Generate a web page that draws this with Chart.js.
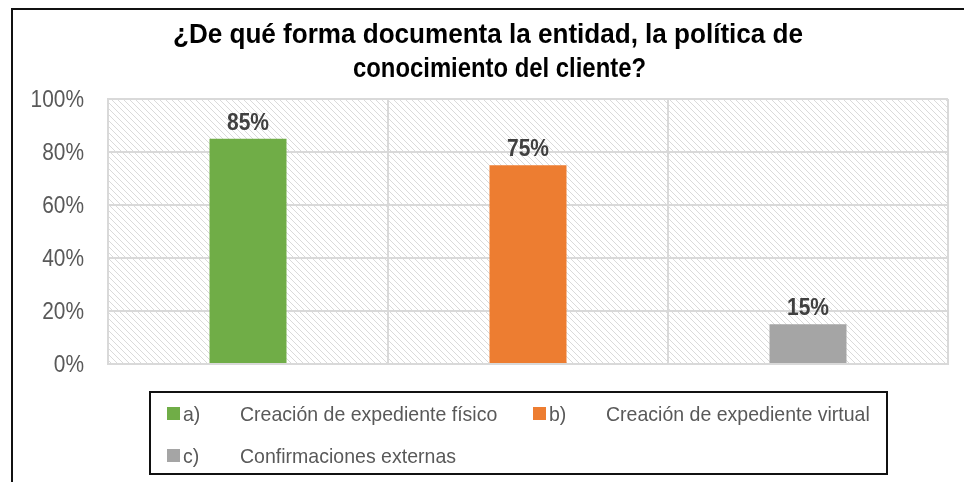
<!DOCTYPE html>
<html>
<head>
<meta charset="utf-8">
<script src="https://cdn.jsdelivr.net/npm/chart.js@4"></script>
<style>
  body { margin: 0; background: #fff; }
  #wrap { position: relative; width: 964px; height: 482px; }
  #frame-top { position: absolute; left: 11px; top: 8px; width: 953px; height: 2px; background: #111; }
  #frame-left { position: absolute; left: 11px; top: 8px; width: 2px; height: 474px; background: #111; }
  #legend-box {
    position: absolute; left: 149px; top: 391px; width: 739px; height: 84px;
    border: 2px solid #111; box-sizing: border-box;
  }
  .leg {
    position: absolute; white-space: nowrap; line-height: 24px; height: 24px;
    font-family: "Liberation Sans", Arial, sans-serif; font-size: 21px; color: #595959;
    transform: scaleX(0.93); transform-origin: left center;
  }
  .sw { position: absolute; width: 13px; height: 13px; }
</style>
</head>
<body>
<div id="wrap">
  <canvas id="grafico" width="964" height="482"></canvas>
  <div id="frame-top"></div>
  <div id="frame-left"></div>
  <div id="legend-box"></div>
</div>
<script>
const categorias = ['a)', 'b)', 'c)'];
const descripciones = ['Creación de expediente físico', 'Creación de expediente virtual', 'Confirmaciones externas'];
const valores = [85, 75, 15];
const colores = ['#70ad47', '#ed7d31', '#a5a5a5'];
const ticksY = [0, 20, 40, 60, 80, 100];
const titulo = ['¿De qué forma documenta la entidad, la política de', 'conocimiento del cliente?'];

const fuente = '"Liberation Sans", Arial, sans-serif';

// texto comprimido en horizontal (imita la fuente estrecha del original)
function textoEstrecho(ctx, txt, x, y, sx, align) {
    ctx.save();
    ctx.translate(x, y);
    ctx.scale(sx, 1);
    ctx.textAlign = align;
    ctx.fillText(txt, 0, 0);
    ctx.restore();
}

function crearTrama() {
    const c = document.createElement('canvas');
    c.width = 6; c.height = 6;
    const g = c.getContext('2d');
    g.fillStyle = '#ffffff';
    g.fillRect(0, 0, 6, 6);
    g.strokeStyle = '#dadada';
    g.lineWidth = 1;
    g.beginPath();
    g.moveTo(-1, -1); g.lineTo(7, 7);
    g.moveTo(-4, 2); g.lineTo(2, 8);
    g.moveTo(2, -4); g.lineTo(8, 2);
    g.stroke();
    return c;
}

const fondoTrama = {
    id: 'fondoTrama',
    beforeDraw(chart) {
        const { ctx, chartArea: a } = chart;
        ctx.save();
        ctx.fillStyle = ctx.createPattern(crearTrama(), 'repeat');
        ctx.fillRect(a.left, a.top, a.right - a.left, a.bottom - a.top);
        ctx.restore();
    }
};

const textos = {
    id: 'textos',
    afterDraw(chart) {
        const ctx = chart.ctx;
        ctx.save();
        ctx.textBaseline = 'alphabetic';

        // titulo: cada línea ajustada al ancho que ocupa en el original
        ctx.font = 'bold 27px ' + fuente;
        ctx.fillStyle = '#000';
        const lineas = [[titulo[0], 173, 803, 43], [titulo[1], 353, 646, 77]];
        lineas.forEach(([t, x0, x1, y]) => {
            const sx = (x1 - x0) / ctx.measureText(t).width;
            textoEstrecho(ctx, t, x0, y, sx, 'left');
        });

        // etiquetas del eje y
        const y = chart.scales.y;
        ctx.font = '24px ' + fuente;
        ctx.fillStyle = '#595959';
        ctx.textBaseline = 'middle';
        y.ticks.forEach(t => {
            textoEstrecho(ctx, t.value + '%', 84, y.getPixelForValue(t.value) + 1, 0.87, 'right');
        });
        ctx.restore();
    }
};

const etiquetasDatos = {
    id: 'etiquetasDatos',
    afterDatasetsDraw(chart) {
        const ctx = chart.ctx;
        const meta = chart.getDatasetMeta(0);
        ctx.save();
        ctx.font = 'bold 24px ' + fuente;
        ctx.fillStyle = '#404040';
        ctx.textBaseline = 'alphabetic';
        meta.data.forEach((barra, i) => {
            textoEstrecho(ctx, valores[i] + '%', barra.x, barra.y - 9, 0.875, 'center');
        });
        ctx.restore();
    }
};

new Chart(document.getElementById('grafico'), {
    type: 'bar',
    data: {
        labels: categorias,
        datasets: [{
            data: valores,
            backgroundColor: colores,
            categoryPercentage: 1,
            barPercentage: 0.275
        }]
    },
    options: {
        responsive: false,
        animation: false,
        layout: { padding: { left: 0, right: 16, top: 99, bottom: 118 } },
        plugins: {
            legend: { display: false },
            title: { display: false },
            tooltip: { enabled: false }
        },
        scales: {
            x: {
                ticks: { display: false },
                grid: { color: '#d9d9d9', lineWidth: 2, drawTicks: false, offset: true },
                border: { color: '#d9d9d9', width: 2 },
                afterFit(s) { s.height = 0; }
            },
            y: {
                min: 0,
                max: 100,
                afterBuildTicks(s) { s.ticks = ticksY.map(v => ({ value: v })); },
                ticks: { display: false },
                grid: { color: '#d9d9d9', lineWidth: 2, drawTicks: false },
                border: { color: '#d9d9d9', width: 2 },
                afterFit(s) { s.width = 108; }
            }
        }
    },
    plugins: [fondoTrama, etiquetasDatos, textos]
});

// leyenda: [x del cuadro, y del centro de la fila]
const wrap = document.getElementById('wrap');
const posiciones = [[167, 414], [533, 414], [167, 456]];
categorias.forEach((cat, i) => {
    const [x, yc] = posiciones[i];
    const sw = document.createElement('div');
    sw.className = 'sw';
    sw.style.left = x + 'px';
    sw.style.top = (yc - 7) + 'px';
    sw.style.background = colores[i];
    wrap.appendChild(sw);

    const a = document.createElement('div');
    a.className = 'leg';
    a.style.left = (x + 16) + 'px';
    a.style.top = (yc - 12) + 'px';
    a.textContent = cat;
    wrap.appendChild(a);

    const d = document.createElement('div');
    d.className = 'leg';
    d.style.left = (x + 73) + 'px';
    d.style.top = (yc - 12) + 'px';
    d.textContent = descripciones[i];
    wrap.appendChild(d);
});
</script>
</body>
</html>
